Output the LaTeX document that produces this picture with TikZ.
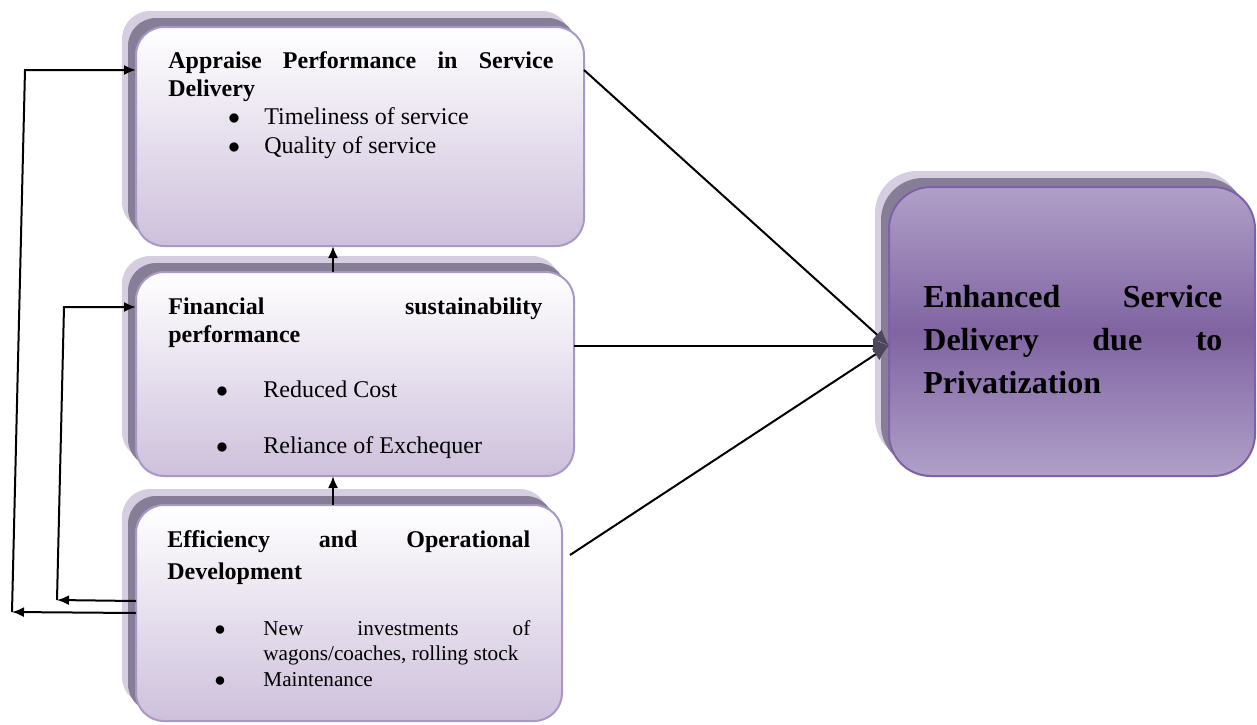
\documentclass[tikz,border=0pt]{standalone}
\usepackage{fontspec}
\setmainfont{Liberation Serif}[HyphenChar=None]
\usepackage{tikz}
\usetikzlibrary{arrows}
\usetikzlibrary{arrows.meta}

\definecolor{boxfill}{RGB}{206,192,220}
\definecolor{boxline}{RGB}{168,152,200}
\definecolor{shlight}{RGB}{214,206,224}
\definecolor{shdark}{RGB}{134,126,150}
\definecolor{goalmid}{RGB}{128,100,162}
\definecolor{goalend}{RGB}{176,160,200}
\definecolor{goalline}{RGB}{126,96,168}
\definecolor{tipgray}{RGB}{76,70,88}

\tikzset{
  box/.style={rectangle, rounded corners=14pt, inner sep=0pt, outer sep=0pt,
    draw=boxline, line width=1pt, top color=white, bottom color=boxfill,
    preaction={fill=shlight, transform canvas={shift={(-7pt,8pt)}}},
    preaction={fill=shdark, transform canvas={shift={(-4pt,4.5pt)}}}},
  goal/.style={box, rounded corners=21pt, draw=goalline,
    top color=goalend, bottom color=goalend, middle color=goalmid},
  title/.style={anchor=base west, inner sep=0pt, align=justify,
    font=\fontsize{12}{14}\selectfont\bfseries},
  item/.style={anchor=base west, inner sep=0pt, font=\fontsize{12}{14}\selectfont},
  dot/.style={anchor=base, inner sep=0pt, font=\fontsize{12}{14}\selectfont},
  link/.style={line width=1pt, -{Latex[length=6pt,width=5pt]}},
  into/.style={line width=1pt, -{Latex[length=8pt,width=7pt,color=tipgray]}}
}

\begin{document}
\begin{tikzpicture}[x=0.5pt,y=-0.5pt]
\useasboundingbox (0,0) rectangle (1257,724);

% the four boxes
\node[box, minimum width=224pt, minimum height=109.5pt] (A) at (360,136.5) {};
\node[box, minimum width=219pt, minimum height=102pt] (B) at (355,374) {};
\node[box, minimum width=213pt, minimum height=108pt] (C) at (349,613) {};
\node[goal, minimum width=183pt, minimum height=144.5pt] (D) at (1072,331.5) {};

% appraise performance
\node[title, text width=192.5pt] (At) at (168,68) {Appraise Performance in Service Delivery};
\node[dot] (Ad1) at (234,124) {$\bullet$};
\node[item] (Ai1) at (264,124) {Timeliness of service};
\node[dot] (Ad2) at (234,153) {$\bullet$};
\node[item] (Ai2) at (264,153) {Quality of service};

% financial sustainability
\node[title, text width=187pt] (Bt) at (168,314) {Financial sustainability\linebreak performance};
\node[dot] (Bd1) at (222,397) {$\bullet$};
\node[item] (Bi1) at (263,397) {Reduced Cost};
\node[dot] (Bd2) at (222,453) {$\bullet$};
\node[item] (Bi2) at (263,453) {Reliance of Exchequer};

% efficiency
\node[title, text width=181.5pt, font=\fontsize{12}{16}\selectfont\bfseries] (Ct) at (167,547) {Efficiency and Operational Development};
\node[dot, font=\fontsize{10.6}{12.5}\selectfont] (Cd1) at (220,635) {$\bullet$};
\node[item, text width=133.5pt, align=justify, font=\fontsize{10.6}{12.5}\selectfont] (Ci1) at (263,635) {New investments of wagons/coaches, rolling stock};
\node[dot, font=\fontsize{10.6}{12.5}\selectfont] (Cd2) at (220,686) {$\bullet$};
\node[item, font=\fontsize{10.6}{12.5}\selectfont] (Ci2) at (263,686) {Maintenance};

% outcome
\node[title, text width=149.5pt, font=\fontsize{16}{21.5}\selectfont\bfseries] (Dt) at (923,307) {Enhanced Service Delivery due to Privatization};

% feedback loops on the left
\coordinate (l1b) at (12,612);
\coordinate (l1t) at (25,70);
\coordinate (l2b) at (57,600);
\coordinate (l2t) at (64,307);
\draw[link] (C.west) -- (l1b);
\draw[link] ([yshift=6pt]C.west) -- (l2b);
\draw[link] (l1b) -- (l1t) -- (l1t -| A.west);
\draw[link] (l2b) -- (l2t) -- (l2t -| B.west);

% upward links
\coordinate (vx) at (333,0);
\draw[link] (vx |- C.north) -- (vx |- B.south);
\draw[link] (vx |- B.north) -- (vx |- A.south);

% links into the outcome
\coordinate (Din) at ([yshift=-7pt]D.west);
\draw[into] (l1t -| A.east) -- (Din);
\draw[into] (Din -| B.east) -- (Din);
\draw[into] ([shift={(4pt,29pt)}]C.east) -- (Din);

\end{tikzpicture}
\end{document}
